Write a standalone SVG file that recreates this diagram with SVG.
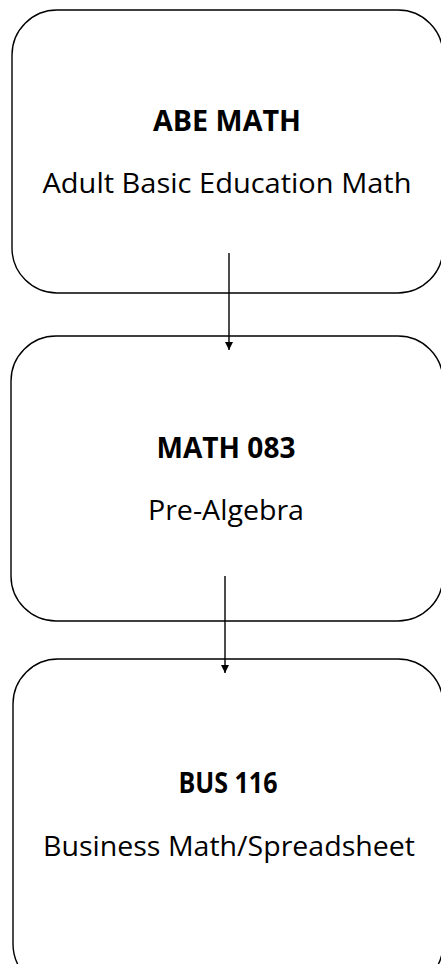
<svg xmlns="http://www.w3.org/2000/svg" width="441" height="964" viewBox="0 0 441 964">
<defs>
<style>
.box{fill:#fff;stroke:#000;stroke-width:1.4}
.t{font-family:"Open Sans","Liberation Sans",sans-serif;text-anchor:middle;fill:#000}
.h{font-weight:bold;font-size:28px}
.s{font-size:27px}
.c{stroke:#000;stroke-width:1.4;fill:none}
</style>
<marker id="ah" viewBox="0 0 8 8" refX="8" refY="4" markerWidth="8" markerHeight="8" markerUnits="userSpaceOnUse" orient="auto">
<path d="M0,0 L8,4 L0,8 Z" fill="#000"/>
</marker>
</defs>
<g id="n1">
<rect class="box" x="12" y="10" width="431" height="283" rx="45" ry="45"/>
<text class="t h" x="227" y="131" textLength="148" lengthAdjust="spacingAndGlyphs">ABE MATH</text>
<text class="t s" x="227" y="193" textLength="369" lengthAdjust="spacingAndGlyphs">Adult Basic Education Math</text>
</g>
<g id="n2">
<rect class="box" x="11" y="336" width="432" height="285" rx="45" ry="45"/>
<text class="t h" x="226" y="458" textLength="139" lengthAdjust="spacingAndGlyphs">MATH 083</text>
<text class="t s" x="226" y="520" textLength="156" lengthAdjust="spacingAndGlyphs">Pre-Algebra</text>
</g>
<g id="n3">
<rect class="box" x="13" y="659" width="430" height="330" rx="45" ry="45"/>
<text class="t h" x="228" y="793" textLength="99" lengthAdjust="spacingAndGlyphs">BUS 116</text>
<text class="t s" x="229" y="856" textLength="372" lengthAdjust="spacingAndGlyphs">Business Math/Spreadsheet</text>
</g>
<g id="connectors">
<line class="c" x1="229" y1="253" x2="229" y2="350" marker-end="url(#ah)"/>
<line class="c" x1="225" y1="576" x2="225" y2="673" marker-end="url(#ah)"/>
</g>
</svg>
